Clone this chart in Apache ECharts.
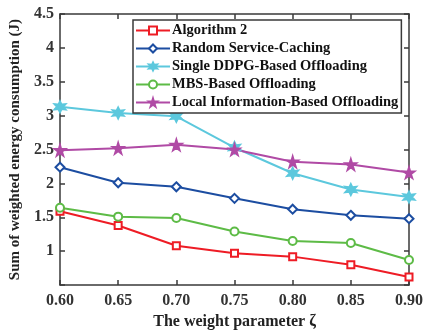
<!DOCTYPE html>
<html>
<head>
<meta charset="utf-8">
<script src="https://cdn.jsdelivr.net/npm/echarts@6/dist/echarts.min.js"></script>
<style>
  html, body { margin: 0; padding: 0; background: #fff; }
  #chart { width: 426px; height: 335px; }
</style>
</head>
<body>
<div id="chart"></div>
<script>
const categories = ["0.60", "0.65", "0.70", "0.75", "0.80", "0.85", "0.90"];
const algorithm2 = [1.59, 1.38, 1.08, 0.97, 0.92, 0.80, 0.62];
const randomCaching = [2.24, 2.01, 1.95, 1.78, 1.62, 1.53, 1.48];
const singleDdpg = [3.13, 3.04, 2.99, 2.53, 2.15, 1.91, 1.80];
const mbsOffloading = [1.64, 1.51, 1.49, 1.29, 1.15, 1.12, 0.87];
const localInfo = [2.49, 2.52, 2.57, 2.50, 2.32, 2.28, 2.16];

const FONT = "'Liberation Serif', 'Times New Roman', serif";
const AXIS_COLOR = "#3a3a3a";
const STAR = "path://M50,0 L61,35 L98,35 L68,57 L79,91 L50,70 L21,91 L32,57 L2,35 L39,35 Z";
const HEXSTAR = "path://M50,0 L62,29 L93,25 L74,50 L93,75 L62,71 L50,100 L38,71 L7,75 L26,50 L7,25 L38,29 Z";

const chart = echarts.init(document.getElementById("chart"));

const makeSeries = (name, data, color, symbol, size) => ({
  name: name,
  type: "line",
  data: data,
  symbol: symbol,
  symbolSize: size,
  lineStyle: { color: color, width: 2 },
  itemStyle: { color: color, borderColor: color, borderWidth: 1.5 },
  emphasis: { disabled: true },
  z: 3,
});

const tickStyle = {
  show: true,
  inside: true,
  length: 5,
  lineStyle: { color: AXIS_COLOR, width: 1.5 },
};

chart.setOption({
  animation: false,
  backgroundColor: "#fff",
  textStyle: { fontFamily: FONT },
  grid: { left: 60, right: 13, top: 14, bottom: 49 },
  legend: {
    orient: "vertical",
    left: 133,
    top: 20,
    padding: [3, 3, 3, 2],
    itemGap: 3,
    itemWidth: 34,
    itemHeight: 10,
    borderColor: AXIS_COLOR,
    borderWidth: 1.5,
    backgroundColor: "#fff",
    textStyle: { fontFamily: FONT, fontWeight: "bold", fontSize: 14.5, color: "#111", padding: [0, 0, 0, -3] },
    data: [
      "Algorithm 2",
      "Random Service-Caching",
      "Single DDPG-Based Offloading",
      "MBS-Based Offloading",
      "Local Information-Based Offloading",
    ],
  },
  xAxis: [
    {
      type: "category",
      data: categories,
      boundaryGap: false,
      name: "The weight parameter \u03b6",
      nameLocation: "middle",
      nameGap: 27,
      nameTextStyle: { fontFamily: FONT, fontWeight: "bold", fontSize: 16, color: "#222" },
      axisLine: { lineStyle: { color: AXIS_COLOR, width: 1.5 } },
      axisTick: tickStyle,
      axisLabel: { fontFamily: FONT, fontWeight: "bold", fontSize: 16, color: "#333", margin: 8 },
      splitLine: { show: false },
    },
    {
      type: "category",
      data: categories,
      boundaryGap: false,
      position: "top",
      axisLine: { lineStyle: { color: AXIS_COLOR, width: 1.5 } },
      axisTick: tickStyle,
      axisLabel: { show: false },
    },
  ],
  yAxis: [
    {
      type: "value",
      min: 0.5,
      max: 4.5,
      interval: 0.5,
      name: "Sum of weighted energy consumption (J)",
      nameLocation: "middle",
      nameGap: 28,
      nameTextStyle: { fontFamily: FONT, fontWeight: "bold", fontSize: 15, color: "#222" },
      axisLine: { show: true, lineStyle: { color: AXIS_COLOR, width: 1.5 } },
      axisTick: tickStyle,
      axisLabel: {
        fontFamily: FONT,
        fontWeight: "bold",
        fontSize: 16,
        color: "#333",
        margin: 6,
        formatter: (v) => (v === 0.5 ? "" : String(v)),
      },
      splitLine: { show: false },
    },
    {
      type: "value",
      min: 0.5,
      max: 4.5,
      interval: 0.5,
      position: "right",
      axisLine: { show: true, lineStyle: { color: AXIS_COLOR, width: 1.5 } },
      axisTick: tickStyle,
      axisLabel: { show: false },
      splitLine: { show: false },
    },
  ],
  series: [
    makeSeries("Algorithm 2", algorithm2, "#ee1c25", "emptyRect", 7),
    makeSeries("Random Service-Caching", randomCaching, "#1c4da1", "emptyDiamond", 9),
    makeSeries("Single DDPG-Based Offloading", singleDdpg, "#5cc8dd", HEXSTAR, 12),
    makeSeries("MBS-Based Offloading", mbsOffloading, "#5dbb46", "emptyCircle", 8),
    makeSeries("Local Information-Based Offloading", localInfo, "#b04aa5", STAR, 12),
  ],
});

window.addEventListener("resize", () => chart.resize());
</script>
</body>
</html>
